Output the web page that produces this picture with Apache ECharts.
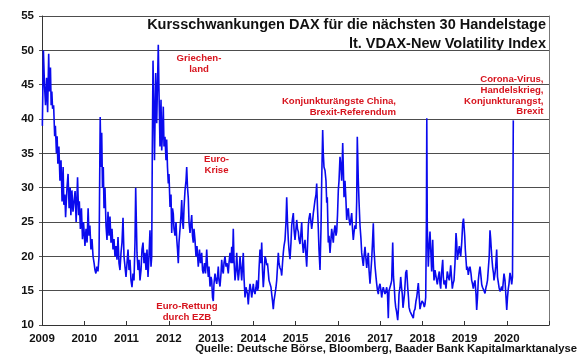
<!DOCTYPE html>
<html><head><meta charset="utf-8">
<script src="https://cdn.jsdelivr.net/npm/echarts@6/dist/echarts.min.js"></script>
<style>html,body{margin:0;padding:0;background:#fff}#c{width:580px;height:359px}</style>
</head><body><div id="c"></div>
<script>
// [month position within year (0-12), VDAX value]
const d2009 = [[0.1,39],[0.4,50],[0.7,45],[1.0,42],[1.3,46],[1.6,41],[1.9,49.5],[2.1,44],[2.4,47.5],[2.6,42],[2.8,44],[3.0,41.5],[3.3,42],[3.6,37.5],[3.8,39],[4.1,35],[4.3,37.5],[4.5,33.5],[4.8,36],[5.1,31],[5.4,34],[5.7,28],[6.0,33],[6.2,27.5],[6.5,29],[6.7,25.7],[7.1,30],[7.4,32],[7.7,27],[8.0,30],[8.2,26],[8.5,29.6],[8.8,26.5],[9.1,28],[9.4,29.5],[9.7,25],[10.1,31.5],[10.4,26],[10.6,28],[10.9,24],[11.2,27],[11.5,22.5],[11.8,25]];
const d2010 = [[0.2,21.5],[0.5,24],[0.8,22],[1.1,27],[1.35,23],[1.6,24.5],[1.9,21],[2.2,22.5],[2.5,20],[2.8,19],[3.05,18],[3.3,17.5],[3.6,18.5],[3.9,17.8],[4.2,20],[4.33,28],[4.53,40.3],[4.76,33],[4.96,38],[5.18,30],[5.41,33],[5.61,27],[5.89,30],[6.18,24.5],[6.46,22.4],[6.75,26.5],[7.03,23],[7.31,25.8],[7.6,22],[7.88,24],[8.17,21],[8.45,22.5],[8.73,20],[9.02,21.5],[9.3,19.5],[9.59,22.8],[9.87,19],[10.15,18],[10.44,20.5],[10.72,22],[11.01,25.6],[11.29,20],[11.57,18.5],[11.86,17]];
const d2011 = [[0.14,19],[0.43,21],[0.71,18],[0.99,19.5],[1.28,16.5],[1.56,15.5],[1.85,17.5],[2.13,16.5],[2.41,22],[2.61,30],[2.84,24],[2.98,20.5],[3.27,18],[3.55,19.5],[3.83,16.5],[4.12,18],[4.4,21],[4.69,22],[4.97,19],[5.25,20.5],[5.54,18],[5.82,21],[6.11,17],[6.39,20],[6.67,23.8],[6.96,18.5],[7.16,20],[7.33,35.4],[7.53,48.5],[7.81,40],[7.95,34],[8.29,46.7],[8.58,39.4],[8.8,45],[9.03,50.8],[9.23,44],[9.51,36],[9.8,42.8],[10.0,35.4],[10.22,38],[10.45,41.8],[10.65,36],[10.93,37.4],[11.22,34],[11.41,37],[11.64,33],[11.87,30.6]];
const d2012 = [[0.07,32],[0.36,27.2],[0.64,29],[0.84,23.4],[1.07,27],[1.29,26.2],[1.49,24],[1.78,23],[2.06,25],[2.26,22.6],[2.49,21],[2.71,19],[2.91,22],[3.2,24],[3.48,26],[3.68,28.2],[3.91,25],[4.13,24],[4.33,27],[4.62,29.6],[4.9,31],[5.1,33],[5.33,30],[5.55,28.5],[5.75,25],[6.04,23.4],[6.32,25],[6.52,26],[6.74,23],[6.97,22],[7.17,24],[7.45,22.4],[7.74,20],[8.02,21.5],[8.39,18.5],[8.73,21],[9.02,19],[9.36,20.5],[9.59,18],[9.81,17.5],[10.15,19],[10.44,17.5],[10.78,21],[11.01,18.5],[11.24,17],[11.43,18.5],[11.72,15.6]];
const d2013 = [[0.0,17],[0.2,16.5],[0.43,14],[0.65,13.5],[0.85,16],[1.14,17.5],[1.42,16.5],[1.62,16],[1.85,17],[2.07,18.5],[2.27,16.5],[2.56,15.6],[2.84,17.5],[3.04,19.5],[3.27,18],[3.49,17.5],[3.69,19],[3.98,20],[4.26,18.5],[4.54,19],[4.91,17.5],[5.11,19],[5.4,20.5],[5.68,19],[5.88,21.4],[6.11,19],[6.33,24],[6.53,19.5],[6.82,16.5],[7.1,18],[7.3,20.5],[7.53,18],[7.75,16.5],[7.95,17.5],[8.24,20],[8.52,18],[8.72,16.5],[8.94,18.5],[9.17,20.5],[9.37,17],[9.66,14],[9.94,15.5],[10.14,15.5],[10.37,14.5],[10.59,13],[10.79,14.5],[11.08,16],[11.36,15],[11.56,14],[11.79,15]];
const d2014 = [[0.01,16],[0.21,15],[0.5,14.5],[0.78,15.5],[0.98,16.5],[1.21,15],[1.43,15.5],[1.63,18],[1.92,21],[2.2,19],[2.4,22],[2.63,18],[2.85,15.5],[3.05,17],[3.34,20],[3.62,19.5],[3.82,18.7],[4.05,19],[4.27,17.7],[4.47,16.5],[4.76,16.5],[5.04,15.5],[5.24,14.5],[5.47,13.5],[5.69,12.3],[5.89,13.5],[6.18,14.5],[6.46,15.5],[6.66,16.5],[6.89,18.5],[7.12,20.5],[7.31,19],[7.6,18.3],[7.88,18],[8.08,17.2],[8.31,19],[8.53,20.5],[8.73,21.5],[9.02,22.4],[9.3,25],[9.5,28.6],[9.73,25],[9.96,22.4],[10.15,21],[10.44,19.6],[10.72,22],[10.92,24.5],[11.15,25.5],[11.38,26.3],[11.57,24],[11.86,22.4]];
const d2015 = [[0.14,24],[0.34,25.3],[0.57,24],[0.8,23.6],[0.99,22.5],[1.28,21.8],[1.56,23.5],[1.76,25],[1.99,22],[2.22,20.5],[2.41,21.5],[2.7,22.4],[2.98,20],[3.18,18.5],[3.41,21.5],[3.64,24.5],[3.83,25.5],[4.12,26.3],[4.4,25],[4.6,24],[4.83,25],[5.06,26.3],[5.25,27],[5.54,28.2],[5.82,29],[6.02,30.6],[6.25,27],[6.48,24],[6.67,21],[6.96,18],[7.24,24],[7.44,31],[7.72,38.4],[7.89,35],[8.09,33],[8.38,32.5],[8.66,31],[8.86,27.8],[9.03,28.6],[9.31,22],[9.51,23],[9.8,20.5],[10.08,22.5],[10.28,24],[10.51,23],[10.73,22],[10.93,23.5],[11.22,24.5],[11.5,23],[11.7,23.6],[11.93,26]];
const d2016 = [[0.16,29.6],[0.36,31],[0.64,34.5],[0.92,33],[1.12,31],[1.41,36.5],[1.58,33],[1.78,28.6],[2.06,31],[2.34,28],[2.54,25.3],[2.77,26.5],[3.0,27],[3.2,25.5],[3.48,24.5],[3.76,25.5],[3.96,26.3],[4.19,24],[4.42,22.4],[4.62,23.5],[4.9,24.5],[5.18,24],[5.38,28],[5.55,37.4],[5.84,31],[6.04,28],[6.32,24.5],[6.6,22.5],[6.8,20.5],[7.03,19.5],[7.26,18.6],[7.46,20],[7.74,21.4],[8.03,19.5],[8.23,18.3],[8.45,19.5],[8.68,20.5],[8.88,18],[9.16,16],[9.44,18],[9.64,19.6],[9.87,22],[10.1,24.8],[10.3,21],[10.58,18.6],[10.86,17],[11.06,16],[11.29,15],[11.52,14.5],[11.72,15.5]];
const d2017 = [[0.0,16],[0.28,15],[0.48,14],[0.71,15],[0.94,15.5],[1.14,15],[1.42,14.5],[1.7,15],[1.9,15.5],[2.13,14.5],[2.36,11],[2.56,15],[2.84,15.5],[3.12,16],[3.32,16.5],[3.61,22],[3.83,17],[4.06,15.5],[4.26,13.6],[4.46,12.6],[4.69,12],[5.03,10.7],[5.25,12.5],[5.4,14.5],[5.68,15.5],[5.88,17],[6.11,15.5],[6.33,14.5],[6.53,12.5],[6.73,12.6],[6.96,14.5],[7.3,17.6],[7.58,18],[7.87,15.5],[8.09,14],[8.24,12.6],[8.52,12],[8.8,11.7],[9.09,11.5],[9.46,11],[9.66,12],[9.94,12.3],[10.22,13.5],[10.42,14],[10.65,15],[10.88,16.1],[11.08,14.5],[11.36,12.3],[11.64,13],[11.93,13.5]];
const d2018 = [[0.3,13.2],[0.58,12.6],[0.78,13],[0.98,14],[1.18,25],[1.29,40.1],[1.43,24.3],[1.72,18.5],[1.92,21],[2.2,23.6],[2.49,20],[2.68,17.8],[2.97,22.4],[3.14,19],[3.34,16.5],[3.62,18],[3.91,17.8],[4.27,15.9],[4.56,17],[4.84,17.8],[5.04,16],[5.24,15.3],[5.47,17.5],[5.81,19.5],[5.98,17],[6.18,15.9],[6.46,16.5],[6.75,15.3],[7.11,17.8],[7.4,17],[7.68,16.5],[7.88,17.5],[8.08,18.7],[8.31,17],[8.54,15.3],[8.74,16],[9.02,16.5],[9.3,19],[9.59,23.4],[9.79,22],[9.96,19.5],[10.24,20.5],[10.53,21.5],[10.73,20.5],[10.92,20],[11.21,22],[11.49,24.8],[11.72,25.5],[11.86,25.3]];
const d2019 = [[0.06,23],[0.23,21],[0.43,19.5],[0.62,18],[0.85,18.5],[1.08,17.3],[1.28,18],[1.56,18.5],[1.85,17.5],[2.04,16.5],[2.27,16],[2.5,15.3],[2.7,16],[2.98,16.5],[3.27,14.5],[3.46,12.2],[3.69,14],[3.92,16.5],[4.12,17.5],[4.4,18.5],[4.69,17],[4.89,15.9],[5.11,15.5],[5.34,15.3],[5.54,15],[5.82,14.6],[6.11,15.5],[6.31,15.9],[6.53,16.5],[6.76,16.5],[7.02,20],[7.24,23.8],[7.44,22.5],[7.61,21],[7.81,19.5],[8.01,18.3],[8.24,17.5],[8.38,16.5],[8.66,17.5],[8.86,18.5],[9.14,21],[9.37,17],[9.6,16.2],[9.8,15.5],[10.08,14.9],[10.37,15.3],[10.56,15.6],[10.79,15],[11.02,14.9],[11.22,17.5],[11.5,16.5],[11.79,14]];
const d2020 = [[0.0,12.2],[0.21,14],[0.44,15.3],[0.64,16],[0.92,17.6],[1.15,17],[1.41,15.9],[1.63,17],[1.86,39.8]];

const yearBlocks = [[2009,d2009],[2010,d2010],[2011,d2011],[2012,d2012],[2013,d2013],[2014,d2014],[2015,d2015],[2016,d2016],[2017,d2017],[2018,d2018],[2019,d2019],[2020,d2020]];
const xTickYears = [2009,2010,2011,2012,2013,2014,2015,2016,2017,2018,2019,2020,2021];
const yTicks = [10,15,20,25,30,35,40,45,50,55];

const titleLines = ['Kursschwankungen DAX für die nächsten 30 Handelstage','lt. VDAX-New Volatility Index'];
const sourceText = 'Quelle: Deutsche Börse, Bloomberg, Baader Bank Kapitalmarktanalyse';

const seriesData = [];
yearBlocks.forEach(([yr, arr]) => arr.forEach(([m, v]) => seriesData.push([yr + m / 12, v])));

const RED = '#d7141e';
const annFont = 'bold 9.6px "Liberation Sans", Arial, sans-serif';
function ann(text, x, y, align) {
  return { type: 'text', x: x, y: y, z: 50, silent: true,
    style: { text: text, textAlign: align, textVerticalAlign: 'top', font: annFont, fill: RED, lineHeight: 10.6 } };
}

const chart = echarts.init(document.getElementById('c'), null, { renderer: 'canvas' });
chart.setOption({
  animation: false,
  backgroundColor: '#fff',
  grid: { left: 42, right: 31, top: 16, bottom: 34, containLabel: false },
  xAxis: {
    type: 'value', min: 2009, max: 2021, interval: 1,
    axisLine: { show: true, lineStyle: { color: '#333', width: 1 } },
    axisTick: { show: true, inside: true, length: 4, lineStyle: { color: '#333' } },
    splitLine: { show: false },
    axisLabel: { margin: 8, color: '#111', fontWeight: 'bold', fontSize: 11.5, fontFamily: '"Liberation Sans", Arial, sans-serif',
      formatter: v => (v === 2021 ? '' : String(v)) }
  },
  yAxis: [{
    type: 'value', min: 10, max: 55, interval: 5,
    axisLine: { show: true, lineStyle: { color: '#333', width: 1 } },
    axisTick: { show: true, length: 3, lineStyle: { color: '#555' } },
    splitLine: { show: true, lineStyle: { color: '#4d4d4d', width: 1 } },
    axisLabel: { margin: 8, color: '#111', fontWeight: 'bold', fontSize: 11.5, fontFamily: '"Liberation Sans", Arial, sans-serif' }
  }, {
    type: 'value', min: 10, max: 55, interval: 5, position: 'right',
    axisLine: { show: true, lineStyle: { color: '#777', width: 1 } },
    axisTick: { show: false }, axisLabel: { show: false }, splitLine: { show: false }
  }],
  series: [{
    type: 'line', data: seriesData, showSymbol: false, sampling: 'none',
    lineStyle: { color: '#0a0aee', width: 1.6 }, z: 3
  }],
  graphic: [
    { type: 'text', x: 546, y: 25, silent: true, style: { text: titleLines[0], textAlign: 'right', textVerticalAlign: 'middle', font: 'bold 14.5px "Liberation Sans", Arial, sans-serif', fill: '#111' } },
    { type: 'text', x: 546, y: 43.5, silent: true, style: { text: titleLines[1], textAlign: 'right', textVerticalAlign: 'middle', font: 'bold 14.5px "Liberation Sans", Arial, sans-serif', fill: '#111' } },
    { type: 'text', x: 577, y: 349, silent: true, style: { text: sourceText, textAlign: 'right', textVerticalAlign: 'middle', font: 'bold 11.3px "Liberation Sans", Arial, sans-serif', fill: '#111' } },
    ann('Griechen-\nland', 199, 53.5, 'center'),
    ann('Euro-\nKrise', 216.5, 154, 'center'),
    ann('Euro-Rettung\ndurch EZB', 187, 301.5, 'center'),
    ann('Konjunkturängste China,\nBrexit-Referendum', 396, 96.5, 'right'),
    ann('Corona-Virus,\nHandelskrieg,\nKonjunkturangst,\nBrexit', 543.5, 74.5, 'right')
  ]
});
</script>
</body></html>
